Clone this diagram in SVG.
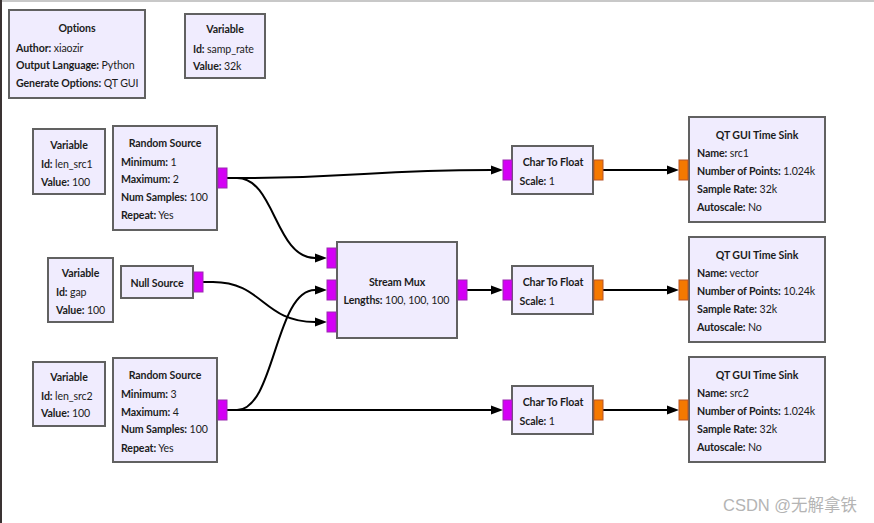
<svg xmlns="http://www.w3.org/2000/svg" width="874" height="523" viewBox="0 0 874 523">
<defs>
<style>
.blk{fill:#f0ecfe;stroke:#616161;stroke-width:2}
.t{font-family:Lato,"Liberation Sans",sans-serif;font-size:10.6px;letter-spacing:-0.1px;fill:#1c1c1c}
.b{font-weight:bold}
.c{text-anchor:middle;font-weight:bold}
.pb{fill:#d400f5;stroke:#9a2ab0;stroke-width:1}
.pf{fill:#f57900;stroke:#b5542a;stroke-width:1}
.w{fill:none;stroke:#000;stroke-width:2;marker-end:url(#ah)}
</style>
<marker id="ah" markerUnits="userSpaceOnUse" markerWidth="13" markerHeight="10" refX="0" refY="5" orient="auto">
<path d="M0,0.5 L12,5 L0,9.5 z" fill="#000"/>
</marker>
</defs>
<rect width="874" height="523" fill="#fff"/>
<line x1="0" y1="1" x2="874" y2="1" stroke="#c8c8c8" stroke-width="2"/>
<line x1="1" y1="0" x2="1" y2="523" stroke="#3a3232" stroke-width="2"/>

<g id="connectors">
<path class="w" d="M227,178 H237 C 364,178 364,170 491,170"/>
<path class="w" d="M227,178 H237 C 275,178 275,258 315,258"/>
<path class="w" d="M203,282 H213 C 263,282 263,322 315,322"/>
<path class="w" d="M227,410 H237 C 275,410 275,290 315,290"/>
<path class="w" d="M227,410 H491"/>
<path class="w" d="M467,290 H491"/>
<path class="w" d="M603,170 H667"/>
<path class="w" d="M603,290 H667"/>
<path class="w" d="M603,410 H667"/>
</g>

<g id="options">
<rect class="blk" x="9" y="10" width="136" height="88"/>
<text class="t c" x="77" y="32">Options</text>
<text class="t" x="16" y="51.5"><tspan class="b">Author:</tspan> xiaozir</text>
<text class="t" x="16" y="69"><tspan class="b">Output Language:</tspan> Python</text>
<text class="t" x="16" y="86.5"><tspan class="b">Generate Options:</tspan> QT GUI</text>
</g>

<g id="var_samp_rate">
<rect class="blk" x="185" y="14" width="80" height="64"/>
<text class="t c" x="225" y="33">Variable</text>
<text class="t" x="193" y="52.5"><tspan class="b">Id:</tspan> samp_rate</text>
<text class="t" x="193" y="70"><tspan class="b">Value:</tspan> 32k</text>
</g>

<g id="var_len_src1">
<rect class="blk" x="33" y="129" width="72" height="65"/>
<text class="t c" x="69" y="149">Variable</text>
<text class="t" x="41" y="168"><tspan class="b">Id:</tspan> len_src1</text>
<text class="t" x="41" y="185.5"><tspan class="b">Value:</tspan> 100</text>
</g>

<g id="random_source_1">
<rect class="blk" x="113" y="126" width="104" height="104"/>
<text class="t c" x="165" y="146.5">Random Source</text>
<text class="t" x="121" y="165.5"><tspan class="b">Minimum:</tspan> 1</text>
<text class="t" x="121" y="183.3"><tspan class="b">Maximum:</tspan> 2</text>
<text class="t" x="121" y="201"><tspan class="b">Num Samples:</tspan> 100</text>
<text class="t" x="121" y="218.5"><tspan class="b">Repeat:</tspan> Yes</text>
<rect class="pb" x="218" y="168" width="9" height="20"/>
</g>

<g id="var_gap">
<rect class="blk" x="48" y="258" width="65" height="64"/>
<text class="t c" x="80.5" y="276.5">Variable</text>
<text class="t" x="56" y="296"><tspan class="b">Id:</tspan> gap</text>
<text class="t" x="56" y="314"><tspan class="b">Value:</tspan> 100</text>
</g>

<g id="null_source">
<rect class="blk" x="121" y="266" width="72" height="32"/>
<text class="t c" x="157" y="286.5">Null Source</text>
<rect class="pb" x="194" y="272" width="9" height="20"/>
</g>

<g id="var_len_src2">
<rect class="blk" x="33" y="362" width="72" height="64"/>
<text class="t c" x="69" y="380.5">Variable</text>
<text class="t" x="41" y="400"><tspan class="b">Id:</tspan> len_src2</text>
<text class="t" x="41" y="417.3"><tspan class="b">Value:</tspan> 100</text>
</g>

<g id="random_source_2">
<rect class="blk" x="113" y="358" width="104" height="104"/>
<text class="t c" x="165" y="379">Random Source</text>
<text class="t" x="121" y="398.3"><tspan class="b">Minimum:</tspan> 3</text>
<text class="t" x="121" y="415.7"><tspan class="b">Maximum:</tspan> 4</text>
<text class="t" x="121" y="433.3"><tspan class="b">Num Samples:</tspan> 100</text>
<text class="t" x="121" y="451.5"><tspan class="b">Repeat:</tspan> Yes</text>
<rect class="pb" x="218" y="400" width="9" height="20"/>
</g>

<g id="stream_mux">
<rect class="blk" x="337" y="242" width="120" height="96"/>
<text class="t c" x="397" y="285.7">Stream Mux</text>
<text class="t" x="343.5" y="304"><tspan class="b">Lengths:</tspan> 100, 100, 100</text>
<rect class="pb" x="327" y="248" width="9" height="20"/>
<rect class="pb" x="327" y="280" width="9" height="20"/>
<rect class="pb" x="327" y="312" width="9" height="20"/>
<rect class="pb" x="458" y="280" width="9" height="20"/>
</g>

<g id="char_to_float_1">
<rect class="blk" x="512" y="146" width="81" height="48"/>
<text class="t c" x="553" y="165.7">Char To Float</text>
<text class="t" x="519.5" y="185"><tspan class="b">Scale:</tspan> 1</text>
<rect class="pb" x="503" y="160" width="9" height="20"/>
<rect class="pf" x="594" y="160" width="9" height="20"/>
</g>

<g id="char_to_float_2">
<rect class="blk" x="512" y="266" width="81" height="48"/>
<text class="t c" x="553" y="285.7">Char To Float</text>
<text class="t" x="519.5" y="305"><tspan class="b">Scale:</tspan> 1</text>
<rect class="pb" x="503" y="280" width="9" height="20"/>
<rect class="pf" x="594" y="280" width="9" height="20"/>
</g>

<g id="char_to_float_3">
<rect class="blk" x="512" y="386" width="81" height="48"/>
<text class="t c" x="553" y="405.7">Char To Float</text>
<text class="t" x="519.5" y="425"><tspan class="b">Scale:</tspan> 1</text>
<rect class="pb" x="503" y="400" width="9" height="20"/>
<rect class="pf" x="594" y="400" width="9" height="20"/>
</g>

<g id="time_sink_1">
<rect class="blk" x="689" y="117" width="136" height="105"/>
<text class="t c" x="757" y="139">QT GUI Time Sink</text>
<text class="t" x="697" y="157.3"><tspan class="b">Name:</tspan> src1</text>
<text class="t" x="697" y="175"><tspan class="b">Number of Points:</tspan> 1.024k</text>
<text class="t" x="697" y="193.3"><tspan class="b">Sample Rate:</tspan> 32k</text>
<text class="t" x="697" y="211"><tspan class="b">Autoscale:</tspan> No</text>
<rect class="pf" x="679" y="160" width="9" height="20"/>
</g>

<g id="time_sink_2">
<rect class="blk" x="689" y="237" width="136" height="105"/>
<text class="t c" x="757" y="259">QT GUI Time Sink</text>
<text class="t" x="697" y="277.3"><tspan class="b">Name:</tspan> vector</text>
<text class="t" x="697" y="295"><tspan class="b">Number of Points:</tspan> 10.24k</text>
<text class="t" x="697" y="313.3"><tspan class="b">Sample Rate:</tspan> 32k</text>
<text class="t" x="697" y="331"><tspan class="b">Autoscale:</tspan> No</text>
<rect class="pf" x="679" y="280" width="9" height="20"/>
</g>

<g id="time_sink_3">
<rect class="blk" x="689" y="357" width="136" height="105"/>
<text class="t c" x="757" y="379">QT GUI Time Sink</text>
<text class="t" x="697" y="397.3"><tspan class="b">Name:</tspan> src2</text>
<text class="t" x="697" y="415"><tspan class="b">Number of Points:</tspan> 1.024k</text>
<text class="t" x="697" y="433.3"><tspan class="b">Sample Rate:</tspan> 32k</text>
<text class="t" x="697" y="451"><tspan class="b">Autoscale:</tspan> No</text>
<rect class="pf" x="679" y="400" width="9" height="20"/>
</g>

<text x="723" y="511" font-family="'Liberation Sans','Noto Sans CJK SC',sans-serif" font-size="16.5" fill="#b4b4b4">CSDN @无解拿铁</text>
</svg>
